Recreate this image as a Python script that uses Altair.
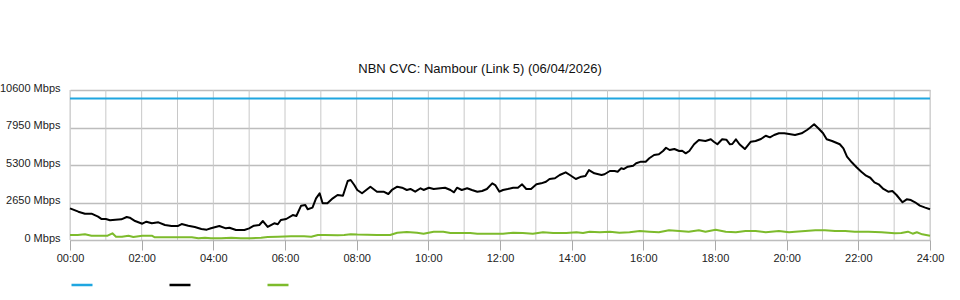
import altair as alt
import pandas as pd

chart_title = "NBN CVC: Nambour (Link 5) (06/04/2026)"
series_names = ["CVC Capacity", "Download", "Upload"]
series_colors = ["#1fa6e0", "#000000", "#7dbb2c"]
y_ticks = [0, 2650, 5300, 7950, 10600]
x_label_hours = list(range(0, 25, 2))
x_grid_hours = list(range(0, 25))

capacity_times = ["00:00", "24:00"]
capacity_vals = [10000, 10000]

download_times = [
    "00:00", "00:14", "00:25", "00:36", "00:47", "00:53", "01:00", "01:07", "01:16", "01:26",
    "01:35", "01:40", "01:49", "02:01", "02:08", "02:17", "02:28", "02:39", "02:50", "03:01",
    "03:07", "03:18", "03:29", "03:40", "03:49", "03:56",
    "04:10", "04:21", "04:27", "04:38", "04:52", "05:00", "05:08", "05:17", "05:23", "05:31",
    "05:42", "05:48", "05:53", "06:02", "06:13", "06:19", "06:27", "06:34", "06:38", "06:46",
    "06:52", "06:58", "07:03", "07:11", "07:20", "07:28", "07:37", "07:45", "07:50", "07:56", "08:01",
    "08:09", "08:23", "08:34", "08:45", "08:53", "08:59", "09:08", "09:16", "09:24", "09:30",
    "09:38", "09:47", "09:52", "10:01", "10:09", "10:20", "10:28", "10:37", "10:43", "10:48",
    "10:56", "11:05", "11:13", "11:22", "11:30", "11:38", "11:47", "11:52", "11:59", "12:05",
    "12:13", "12:22", "12:30", "12:37", "12:44", "12:52", "13:01", "13:09", "13:17", "13:23",
    "13:32", "13:40", "13:50", "13:57", "14:07", "14:16", "14:23", "14:29", "14:38", "14:50",
    "14:55", "15:04", "15:12", "15:17", "15:23", "15:27", "15:34", "15:43", "15:48", "15:56",
    "16:04", "16:10",
    "16:18", "16:26", "16:33", "16:38", "16:44", "16:52", "17:00", "17:05", "17:11", "17:17",
    "17:25", "17:33", "17:44", "17:53", "17:58", "18:04", "18:12", "18:19", "18:25", "18:29",
    "18:35", "18:41", "18:50", "19:00", "19:08", "19:17", "19:25", "19:32", "19:39", "19:47",
    "19:56", "20:04", "20:14",
    "20:25", "20:34", "20:39", "20:46", "20:53", "21:01", "21:07", "21:16", "21:21", "21:29",
    "21:35", "21:41", "21:49", "21:57", "22:05", "22:13", "22:20", "22:27", "22:34", "22:42",
    "22:50", "22:57", "23:04", "23:14", "23:21", "23:28", "23:35", "23:43", "23:52", "24:00",
]
download_vals = [
    2240, 2000, 1860, 1860, 1650, 1480, 1480, 1390, 1435, 1460,
    1625, 1575, 1340, 1150, 1295, 1180, 1250, 1060, 990, 990,
    1130, 1010, 920, 780, 730, 830,
    990, 825, 870, 705, 705, 825, 1010, 1060, 1340, 920,
    1180, 1110, 1415, 1485, 1765, 1695, 2425, 2475, 2170, 2285,
    2945, 3300, 2595, 2595, 2945, 3180, 3130, 4170, 4240, 3885, 3535,
    3300, 3765, 3415, 3415, 3250, 3535, 3765, 3695, 3535, 3605,
    3415, 3655, 3535, 3695, 3605, 3655, 3695, 3535, 3370, 3695,
    3535, 3655, 3535, 3415, 3465, 3605, 4005, 3885, 3415, 3535,
    3605, 3695, 3695, 3935, 3605, 3605, 3935, 4005, 4120, 4310,
    4360, 4595, 4785, 4595, 4310, 4475, 4525, 4945, 4715, 4595,
    4645, 4875, 4875, 4825, 5065, 5015, 5180, 5250, 5420, 5535,
    5535, 5775,
    6005, 6055, 6290, 6520, 6360, 6430, 6290, 6310, 6125, 6290,
    6765, 7065, 6995, 7115, 6945, 6765, 7115, 7090, 6765, 6785,
    7115, 6765, 6430, 6945, 6995, 7140, 7370, 7255, 7420, 7540,
    7540, 7490, 7420,
    7540, 7775, 7935, 8175, 7895, 7540, 7115, 6995, 6905, 6765,
    6480, 5885, 5490, 5140, 4825, 4545, 4400, 4075, 3935, 3605,
    3415, 3465, 3180, 2665, 2875, 2825, 2665, 2425, 2285, 2170,
]

upload_times = [
    "00:00", "00:13", "00:25", "00:36", "00:53", "01:03", "01:11", "01:17", "01:27", "01:38",
    "01:46", "02:01", "02:17", "02:22", "02:39", "03:01", "03:24", "03:35", "03:46", "03:56",
    "04:13", "04:30", "04:46", "05:03", "05:20", "05:31", "05:48", "06:10", "06:32", "06:44",
    "06:55", "07:06", "07:28", "07:39", "07:50", "08:01", "08:34", "08:56", "09:08", "09:24",
    "09:41", "09:52", "10:09", "10:25", "10:37", "10:59", "11:10", "11:22", "11:44", "12:05",
    "12:22", "12:38", "12:55", "13:12", "13:29", "13:51", "14:08", "14:19", "14:30", "14:47",
    "15:04", "15:20", "15:37", "15:54", "16:10", "16:26", "16:43", "17:00", "17:16", "17:33",
    "17:44", "18:01", "18:18", "18:35", "18:51", "19:08", "19:25", "19:47", "20:04", "20:14",
    "20:31", "20:48", "21:04", "21:21", "21:38", "21:54", "22:17", "22:39", "23:01", "23:12",
    "23:23", "23:31", "23:38", "23:47", "24:00",
]
upload_vals = [
    353, 353, 400, 305, 305, 305, 475, 235, 235, 305,
    212, 305, 305, 190, 190, 190, 190, 120, 165, 120,
    120, 165, 120, 120, 165, 212, 235, 260, 260, 235,
    353, 353, 330, 353, 400, 380, 353, 353, 515, 565,
    515, 445, 590, 590, 495, 495, 495, 445, 445, 445,
    515, 495, 445, 545, 495, 495, 545, 495, 590, 545,
    590, 515, 545, 635, 590, 545, 685, 635, 590, 685,
    590, 730, 590, 545, 635, 635, 545, 635, 545, 590,
    635, 685, 685, 635, 635, 590, 590, 545, 475, 495,
    590, 445, 545, 400, 305,
]


def to_hours(t):
    h, m = t.split(":")
    return int(h) + int(m) / 60.0


rows = []
for name, ts, vs in zip(series_names,
                        [capacity_times, download_times, upload_times],
                        [capacity_vals, download_vals, upload_vals]):
    for t, v in zip(ts, vs):
        rows.append({"series": name, "hour": to_hours(t), "mbps": v})
df = pd.DataFrame(rows)
grid_df = pd.DataFrame({"hour": x_grid_hours})

FONT = "Liberation Sans"

x_scale = alt.Scale(domain=[0, 24], nice=False, zero=False)
x_axis = alt.Axis(values=x_label_hours, grid=False, domain=False, title=None, orient="bottom",
                  labelExpr="(datum.value < 10 ? '0' : '') + datum.value + ':00'",
                  labelFlush=False, labelOverlap=False,
                  tickSize=10, tickColor="#aaaaaa", labelPadding=2,
                  labelFontSize=11, labelColor="#222222", labelFont=FONT)

y_enc = alt.Y(
    "mbps:Q",
    scale=alt.Scale(domain=[0, 10600], nice=False, zero=True),
    axis=alt.Axis(
        values=y_ticks, labelExpr="datum.value + ' Mbps'", title=None, ticks=False,
        domain=False, gridColor="#bdbdbd", gridWidth=1.5, labelPadding=10,
        labelOffset=-2, labelFlush=False, labelFontSize=11, labelColor="#222222",
        labelFont=FONT,
    ),
)

color = alt.Color(
    "series:N",
    scale=alt.Scale(domain=series_names, range=series_colors),
    legend=alt.Legend(
        orient="none", legendX=0, legendY=183, direction="horizontal", columns=3,
        title=None, labelExpr="''", symbolType="stroke", symbolSize=441,
        symbolStrokeWidth=2.5, columnPadding=66, labelOffset=0, padding=0,
    ),
)

vgrid = alt.Chart(grid_df).mark_rule(color="#c8c8c8", strokeWidth=1).encode(
    x=alt.X("hour:Q", scale=x_scale, axis=x_axis),
)

lines = alt.Chart(df).mark_line(strokeWidth=2, strokeJoin="round").encode(
    x=alt.X("hour:Q", scale=x_scale, axis=x_axis),
    y=y_enc,
    color=color,
)

chart = alt.layer(vgrid, lines).properties(
    width=860,
    height=150,
    autosize=alt.AutoSizeParams(type="none"),
    padding={"left": 70, "top": 90, "right": 30, "bottom": 60},
    title=alt.TitleParams(text=chart_title, fontSize=13, fontWeight="normal", font=FONT,
                          color="#111111", anchor="middle", dx=-20, offset=6),
).configure_view(stroke=None).configure(background="white")

chart.save("out.html", embed_options={"renderer": "svg", "actions": False})
